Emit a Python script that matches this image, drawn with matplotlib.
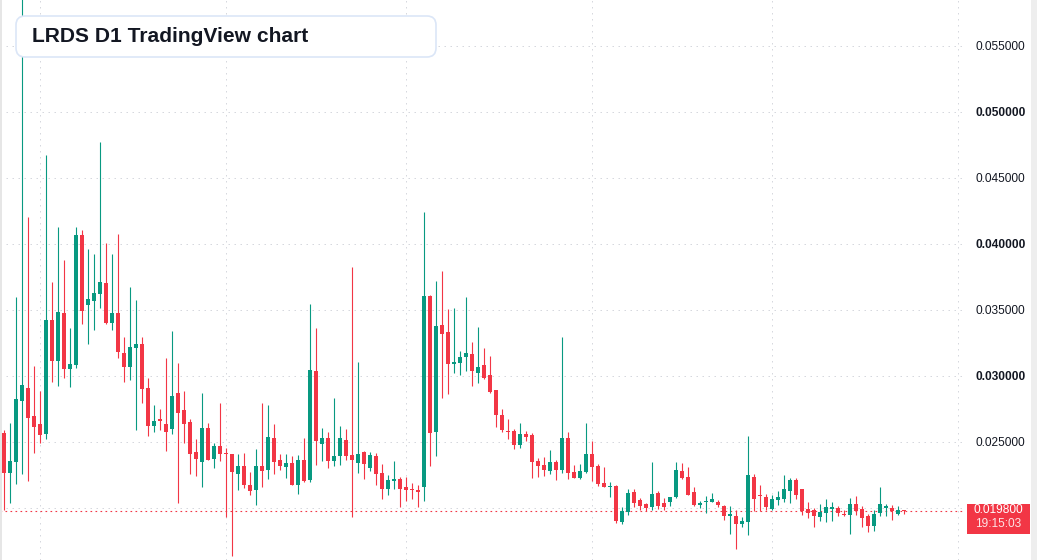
import matplotlib
matplotlib.use("Agg")
import matplotlib.pyplot as plt
from matplotlib.patches import FancyBboxPatch, Rectangle
from matplotlib.transforms import IdentityTransform
import pandas as pd

# -----------------------------------------------------------------------------
# DATA (daily candles)
# -----------------------------------------------------------------------------

TITLE = "LRDS D1 TradingView chart"
START_DATE = "2025-02-23"
COUNTDOWN = "19:15:03"

OPENS = [
    0.02568, 0.02265, 0.02348, 0.02810, 0.02909, 0.02697, 0.02636, 0.02560, 0.03424, 0.03113,
    0.03477, 0.03053, 0.03083, 0.04068, 0.03537, 0.03568, 0.03621, 0.03704, 0.03401, 0.03477,
    0.03174, 0.03068, 0.03212, 0.03242, 0.02909, 0.02621, 0.02674, 0.02636, 0.02598, 0.02871,
    0.02742, 0.02651, 0.02424, 0.02348, 0.02606, 0.02371, 0.02469, 0.02416, 0.02409, 0.02257,
    0.02318, 0.02174, 0.02136, 0.02318, 0.02287, 0.02530, 0.02363, 0.02310, 0.02340, 0.02174,
    0.02363, 0.02212, 0.03037, 0.02484, 0.02530, 0.02356, 0.02393, 0.02515, 0.02401, 0.02340,
    0.02424, 0.02303, 0.02393, 0.02265, 0.02143, 0.02204, 0.02219, 0.02159, 0.02143, 0.02136,
    0.02159, 0.03606, 0.02575, 0.03386, 0.03333, 0.03090, 0.03098, 0.03144, 0.03166, 0.03022,
    0.03083, 0.03007, 0.02894, 0.02704, 0.02583, 0.02583, 0.02477, 0.02560, 0.02553, 0.02356,
    0.02325, 0.02280, 0.02348, 0.02287, 0.02530, 0.02272, 0.02227, 0.02272, 0.02409, 0.02318,
    0.02189, 0.02159, 0.02166, 0.01893, 0.01969, 0.02121, 0.02060, 0.02030, 0.02007, 0.02113,
    0.02037, 0.02045, 0.02083, 0.02280, 0.02234, 0.02121, 0.02022, 0.02045, 0.02045, 0.02045,
    0.02015, 0.01939, 0.01939, 0.01878, 0.01893, 0.02234, 0.02098, 0.02083, 0.01992, 0.02060,
    0.02068, 0.02128, 0.02212, 0.02143, 0.01992, 0.01984, 0.01931, 0.01962, 0.01992, 0.02000,
    0.01954, 0.01947, 0.02030, 0.01992, 0.01939, 0.01863, 0.01962, 0.02000, 0.02000, 0.01954,
    0.01984,
]
HIGHS = [
    0.02590, 0.02644, 0.03598, 0.06000, 0.04204, 0.03075, 0.02886, 0.04674, 0.03712, 0.04128,
    0.03878, 0.03363, 0.04128, 0.04106, 0.03962, 0.03924, 0.04772, 0.04007, 0.03924, 0.04075,
    0.03295, 0.03674, 0.03575, 0.03295, 0.02984, 0.02780, 0.02750, 0.03136, 0.03341, 0.03098,
    0.02886, 0.02674, 0.02522, 0.02871, 0.02644, 0.02492, 0.02795, 0.02454, 0.02412, 0.02409,
    0.02416, 0.02272, 0.02447, 0.02795, 0.02780, 0.02636, 0.02409, 0.02409, 0.02393, 0.02401,
    0.02530, 0.03545, 0.03363, 0.02606, 0.02575, 0.02833, 0.02621, 0.02598, 0.03825, 0.03106,
    0.02431, 0.02424, 0.02416, 0.02333, 0.02250, 0.02356, 0.02234, 0.02234, 0.02189, 0.02174,
    0.04242, 0.03610, 0.03719, 0.03795, 0.03507, 0.03515, 0.03189, 0.03598, 0.03257, 0.03371,
    0.03212, 0.03151, 0.02897, 0.02750, 0.02674, 0.02598, 0.02644, 0.02583, 0.02568, 0.02378,
    0.02386, 0.02439, 0.02360, 0.03295, 0.02575, 0.02325, 0.02333, 0.02644, 0.02507, 0.02333,
    0.02310, 0.02197, 0.02174, 0.02007, 0.02143, 0.02143, 0.02075, 0.02037, 0.02348, 0.02128,
    0.02075, 0.02086, 0.02348, 0.02340, 0.02310, 0.02159, 0.02053, 0.02090, 0.02113, 0.02060,
    0.02022, 0.02015, 0.01984, 0.01931, 0.02545, 0.02257, 0.02174, 0.02106, 0.02098, 0.02128,
    0.02250, 0.02227, 0.02227, 0.02146, 0.02045, 0.02000, 0.02030, 0.02068, 0.02045, 0.02015,
    0.01984, 0.02075, 0.02090, 0.02015, 0.01954, 0.01984, 0.02159, 0.02030, 0.02022, 0.02015,
    0.01986,
]
LOWS = [
    0.01984, 0.02037, 0.02181, 0.02257, 0.02204, 0.02416, 0.02492, 0.02522, 0.02954, 0.02924,
    0.02984, 0.02916, 0.03060, 0.03394, 0.03242, 0.03348, 0.03515, 0.03395, 0.03348, 0.03136,
    0.02954, 0.02969, 0.02590, 0.02795, 0.02545, 0.02575, 0.02590, 0.02431, 0.02560, 0.02037,
    0.02492, 0.02257, 0.02242, 0.02159, 0.02360, 0.02303, 0.02356, 0.01931, 0.01636, 0.02136,
    0.02151, 0.02098, 0.02022, 0.02159, 0.02219, 0.02257, 0.02287, 0.02227, 0.02170, 0.02106,
    0.02197, 0.02197, 0.02325, 0.02356, 0.02303, 0.02318, 0.02325, 0.02363, 0.01931, 0.02265,
    0.02219, 0.02280, 0.02174, 0.02068, 0.02098, 0.02143, 0.02007, 0.02053, 0.02068, 0.02007,
    0.02053, 0.02318, 0.02393, 0.02833, 0.02863, 0.03022, 0.03007, 0.03037, 0.02924, 0.02947,
    0.02980, 0.02871, 0.02613, 0.02575, 0.02522, 0.02447, 0.02454, 0.02507, 0.02227, 0.02234,
    0.02242, 0.02257, 0.02212, 0.02265, 0.02219, 0.02224, 0.02219, 0.02268, 0.02204, 0.02166,
    0.02155, 0.02083, 0.01886, 0.01878, 0.01947, 0.02007, 0.01984, 0.01977, 0.01984, 0.01992,
    0.01984, 0.02015, 0.02075, 0.02219, 0.02095, 0.02015, 0.02000, 0.01962, 0.02042, 0.02007,
    0.01909, 0.01803, 0.01689, 0.01856, 0.01795, 0.01977, 0.01977, 0.01984, 0.01984, 0.02022,
    0.02045, 0.02037, 0.02068, 0.01947, 0.01924, 0.01856, 0.01901, 0.01893, 0.01901, 0.01939,
    0.01939, 0.01803, 0.01947, 0.01856, 0.01818, 0.01825, 0.01939, 0.01939, 0.01909, 0.01947,
    0.01954,
]
CLOSES = [
    0.02265, 0.02356, 0.02825, 0.02931, 0.02681, 0.02613, 0.02553, 0.03424, 0.03113, 0.03484,
    0.03053, 0.03090, 0.04068, 0.03492, 0.03583, 0.03628, 0.03712, 0.03401, 0.03477, 0.03181,
    0.03068, 0.03219, 0.03242, 0.02901, 0.02621, 0.02659, 0.02659, 0.02575, 0.02848, 0.02719,
    0.02636, 0.02409, 0.02371, 0.02606, 0.02363, 0.02469, 0.02409, 0.02409, 0.02272, 0.02318,
    0.02174, 0.02128, 0.02318, 0.02280, 0.02537, 0.02348, 0.02318, 0.02340, 0.02174, 0.02363,
    0.02204, 0.03045, 0.02507, 0.02530, 0.02356, 0.02393, 0.02530, 0.02393, 0.02363, 0.02409,
    0.02333, 0.02401, 0.02257, 0.02143, 0.02212, 0.02219, 0.02143, 0.02136, 0.02136, 0.02121,
    0.03606, 0.02568, 0.03378, 0.03318, 0.03090, 0.03106, 0.03144, 0.03174, 0.03037, 0.03068,
    0.02984, 0.02878, 0.02704, 0.02590, 0.02575, 0.02477, 0.02560, 0.02537, 0.02348, 0.02318,
    0.02287, 0.02348, 0.02287, 0.02530, 0.02265, 0.02227, 0.02280, 0.02409, 0.02310, 0.02181,
    0.02159, 0.02166, 0.01901, 0.01977, 0.02113, 0.02037, 0.02015, 0.02000, 0.02106, 0.02015,
    0.02007, 0.02083, 0.02287, 0.02227, 0.02098, 0.02022, 0.02037, 0.02053, 0.02068, 0.02022,
    0.01939, 0.01954, 0.01878, 0.01901, 0.02250, 0.02068, 0.02090, 0.02007, 0.02068, 0.02083,
    0.02143, 0.02212, 0.02098, 0.01977, 0.01962, 0.01939, 0.01969, 0.02007, 0.02007, 0.01962,
    0.01947, 0.02030, 0.01977, 0.01924, 0.01863, 0.01954, 0.02030, 0.02015, 0.01977, 0.01984,
    0.01980,
]

PRICE_TICKS = [0.020, 0.025, 0.030, 0.035, 0.040, 0.045, 0.050, 0.055]
BOLD_TICKS = [0.030, 0.040, 0.050]

# -----------------------------------------------------------------------------
# STYLE
# -----------------------------------------------------------------------------

W, H = 1037, 560
PLOT_RIGHT = 965          # px where the price scale starts
COLOR_UP = "#089981"
COLOR_DOWN = "#f23645"
COLOR_GRID = "#d6d8de"
COLOR_TEXT = "#131722"

plt.rcParams["font.family"] = ["Liberation Sans", "DejaVu Sans"]


def main():
    dates = pd.date_range(START_DATE, periods=len(CLOSES), freq="D")
    n = len(CLOSES)
    xs = list(range(n))

    fig = plt.figure(figsize=(W / 100, H / 100), dpi=100)
    fig.patch.set_facecolor("white")
    ax = fig.add_axes([0, 0, PLOT_RIGHT / W, 1])
    ax.set_facecolor("white")

    # month-start gridlines (Mar .. Aug)
    months = pd.date_range(dates[0] + pd.offsets.MonthBegin(0), periods=6, freq="MS")
    month_idx = [(m - dates[0]).days for m in months]

    ax.set_xticks(month_idx)
    ax.set_xticklabels([])
    ax.set_yticks(PRICE_TICKS)
    ax.set_xlim(-0.667, 160.17)
    ax.set_ylim(0.016056, 0.05848)
    ax.grid(True, color=COLOR_GRID, linestyle=(0, (1.5, 4.5)), linewidth=0.72)
    ax.set_axisbelow(True)

    # candles
    min_body = 0.00008
    for i, o, h, l, c in zip(xs, OPENS, HIGHS, LOWS, CLOSES):
        color = COLOR_UP if c >= o else COLOR_DOWN
        ax.plot([i, i], [l, h], color=color, linewidth=0.8, solid_capstyle="butt", zorder=2)
        bottom = min(o, c)
        height = max(abs(c - o), min_body)
        ax.add_patch(Rectangle((i - 0.4, bottom), 0.8, height, facecolor=color,
                               edgecolor="none", linewidth=0, zorder=3))

    last = CLOSES[-1]
    ax.axhline(last, color=COLOR_DOWN, linestyle=(0, (1.5, 3.0)), linewidth=0.8, zorder=1)

    # price scale on the right
    ax.yaxis.tick_right()
    ax.tick_params(axis="both", length=0)
    ax.tick_params(axis="y", pad=7.2, labelsize=8.6, labelcolor=COLOR_TEXT)
    labels = []
    for v in PRICE_TICKS:
        labels.append("" if abs(v - 0.020) < 1e-9 else f"{v:.6f}")
    ax.set_yticklabels(labels)
    for lab, v in zip(ax.get_yticklabels(), PRICE_TICKS):
        if any(abs(v - b) < 1e-9 for b in BOLD_TICKS):
            lab.set_fontweight("bold")
    for s in ax.spines.values():
        s.set_visible(False)

    # last price tag
    fig.canvas.draw()
    y_last = ax.transData.transform((0, last))[1]
    tag = Rectangle((967, y_last - 23.5), 63, 30, transform=IdentityTransform(),
                    facecolor=COLOR_DOWN, edgecolor="none", zorder=5)
    fig.patches.append(tag)
    fig.text(998 / W, (y_last + 0.5) / H, f"{last:.6f}", color="white", fontsize=8.6,
             ha="center", va="center", zorder=6)
    fig.text(998 / W, (y_last - 13.5) / H, COUNTDOWN, color="#fde3e5", fontsize=8.6,
             ha="center", va="center", zorder=6)

    # grey edges
    fig.patches.append(Rectangle((0, 0), 2, H, transform=IdentityTransform(),
                                 facecolor="#e6e6e6", edgecolor="none", zorder=4))
    fig.patches.append(Rectangle((1031, 0), 6, H, transform=IdentityTransform(),
                                 facecolor="#eeeeee", edgecolor="none", zorder=4))

    # title box
    box = FancyBboxPatch((16, H - 57), 420, 41, boxstyle="round,pad=0,rounding_size=9",
                         transform=IdentityTransform(), facecolor="white",
                         edgecolor="#dbe6f7", linewidth=1.2, zorder=5)
    fig.patches.append(box)
    fig.text(32 / W, 1 - 37 / H, TITLE, color=COLOR_TEXT, fontsize=15.1,
             fontweight="bold", ha="left", va="center", zorder=6)

    fig.savefig("out.png", dpi=100, facecolor="white")
    plt.close(fig)


if __name__ == "__main__":
    main()
